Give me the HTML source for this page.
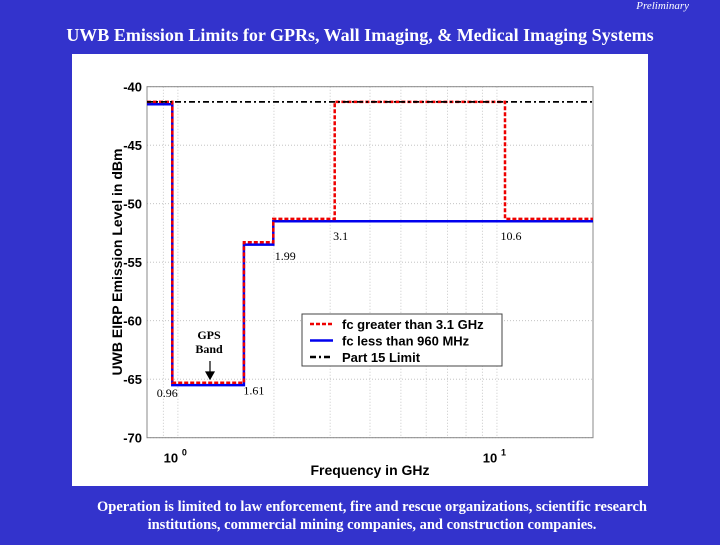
<!DOCTYPE html>
<html><head><meta charset="utf-8"><style>
body{margin:0;width:720px;height:540px;background:#3333cc;overflow:hidden;font-family:"Liberation Serif",serif;}
</style></head><body>
<svg width="720" height="540" xmlns="http://www.w3.org/2000/svg">
<rect width="720" height="540" fill="#3333cc"/>
<text x="689" y="9" text-anchor="end" font-family="Liberation Serif" font-style="italic" font-size="11" fill="#fff">Preliminary</text>
<text x="360" y="41" text-anchor="middle" font-family="Liberation Serif" font-weight="bold" font-size="18" fill="#fff">UWB Emission Limits for GPRs, Wall Imaging, &amp; Medical Imaging Systems</text>
<rect x="72" y="54" width="576" height="432" fill="#fff"/>
<g id="chart"></g>
<text x="372" y="511" text-anchor="middle" font-family="Liberation Serif" font-weight="bold" font-size="14.5" fill="#fff">Operation is limited to law enforcement, fire and rescue organizations, scientific research</text>
<text x="372" y="529" text-anchor="middle" font-family="Liberation Serif" font-weight="bold" font-size="14.5" fill="#fff">institutions, commercial mining companies, and construction companies.</text>
</svg>
<script>
const redX=[0.8,0.96,0.96,1.61,1.61,1.99,1.99,3.1,3.1,10.6,10.6,20];
const redY=[-41.3,-41.3,-65.3,-65.3,-53.3,-53.3,-51.3,-51.3,-41.3,-41.3,-51.3,-51.3];
const blueX=[0.8,0.96,0.96,1.61,1.61,1.99,1.99,20];
const blueY=[-41.5,-41.5,-65.5,-65.5,-53.5,-53.5,-51.5,-51.5];
const part15X=[0.8,20];
const part15Y=[-41.3,-41.3];
const yTicks=[-40,-45,-50,-55,-60,-65,-70];
const xMinorGrid=[0.9,1,2,3,4,5,6,7,8,9,10,20];
const annotations=[["0.96",0.96,-66.5],["1.61",1.61,-66.3],["1.99",1.99,-54.8],["3.1",3.1,-53.1],["10.6",10.6,-53.1]];
const NS="http://www.w3.org/2000/svg";
const L=147,R=593,T=86.7,B=437.7,xmin=0.8,xmax=20,ymin=-70,ymax=-40;
const sx=v=>L+(Math.log10(v)-Math.log10(xmin))/(Math.log10(xmax)-Math.log10(xmin))*(R-L);
const sy=v=>B-(v-ymin)/(ymax-ymin)*(B-T);
const g=document.getElementById('chart');
function mk(t,a){const e=document.createElementNS(NS,t);for(const k in a)e.setAttribute(k,a[k]);g.appendChild(e);return e;}
mk('rect',{x:L,y:T,width:R-L,height:B-T,fill:'#fff',stroke:'none'});
xMinorGrid.forEach(v=>{const e=mk('line',{x1:sx(v),x2:sx(v),y1:T,y2:B,stroke:'#bbb','stroke-width':0.8,'stroke-dasharray':'1,2'});

});
yTicks.forEach(v=>{const e=mk('line',{x1:L,x2:R,y1:sy(v),y2:sy(v),stroke:'#bbb','stroke-width':0.8,'stroke-dasharray':'1,2'});


const t=mk('text',{x:L-5,y:sy(v)+5,'text-anchor':'end','font-family':'Liberation Sans','font-weight':'bold','font-size':13,fill:'#000'});t.textContent=v;

});
[[1,'0'],[10,'1']].forEach(([v,p])=>{const t=mk('text',{x:sx(v)-7,y:B+25,'text-anchor':'middle','font-family':'Liberation Sans','font-weight':'bold','font-size':13,fill:'#000'});t.textContent='10';


const s=mk('text',{x:sx(v)+4,y:B+18,'font-family':'Liberation Sans','font-weight':'bold','font-size':9,fill:'#000'});s.textContent=p;

});
const ax=mk('rect',{x:L,y:T,width:R-L,height:B-T,fill:'none',stroke:'#888','stroke-width':1});


function path(xs,ys){return xs.map((x,i)=>(i?'L':'M')+sx(x).toFixed(1)+','+sy(ys[i]).toFixed(1)).join(' ');}
const pb=mk('path',{d:path(blueX,blueY),fill:'none',stroke:'#0000ee','stroke-width':2.5});


const pr=mk('path',{d:path(redX,redY),fill:'none',stroke:'#ee0000','stroke-width':2.5,'stroke-dasharray':'4,2'});


const pk=mk('path',{d:path(part15X,part15Y),fill:'none',stroke:'#000','stroke-width':1.8,'stroke-dasharray':'6,3,2,3'});


annotations.forEach(([s,x,y])=>{const t=mk('text',{x:sx(x)+(s==='0.96'?-5:(s==='1.61'?10:(s==='1.99'?12:6))),y:sy(y),'text-anchor':'middle','font-family':'Liberation Serif','font-size':12,fill:'#000'});t.textContent=s;

});
const gp=mk('text',{x:209,y:339,'text-anchor':'middle','font-family':'Liberation Serif','font-weight':'bold','font-size':12,fill:'#000'});gp.textContent='GPS';


const gb=mk('text',{x:209,y:353,'text-anchor':'middle','font-family':'Liberation Serif','font-weight':'bold','font-size':12,fill:'#000'});gb.textContent='Band';


const ar=mk('path',{d:'M210,361 L210,373 M206,372 L210,379 L214,372 Z',stroke:'#000','stroke-width':1.2,fill:'#000'});


const lg=mk('rect',{x:302,y:314,width:200,height:52,fill:'#fff',stroke:'#444','stroke-width':1});


[['fc greater than 3.1 GHz','#ee0000','4,2'],['fc less than 960 MHz','#0000ee','none'],['Part 15 Limit','#000','6,3,2,3']].forEach(([s,c,d],i)=>{
const y=324+i*16.5;
const l=mk('line',{x1:310,x2:333,y1:y,y2:y,stroke:c,'stroke-width':2.5,'stroke-dasharray':d});


const t=mk('text',{x:342,y:y+5,'font-family':'Liberation Sans','font-weight':'bold','font-size':13,fill:'#000'});t.textContent=s;

});
const xl=mk('text',{x:370,y:475,'text-anchor':'middle','font-family':'Liberation Sans','font-weight':'bold','font-size':14,fill:'#000'});xl.textContent='Frequency in GHz';


const yl=mk('text',{x:0,y:0,transform:'translate(122,262) rotate(-90)','text-anchor':'middle','font-family':'Liberation Sans','font-weight':'bold','font-size':14,fill:'#000'});yl.textContent='UWB EIRP Emission Level in dBm';


</script>
</body></html>
